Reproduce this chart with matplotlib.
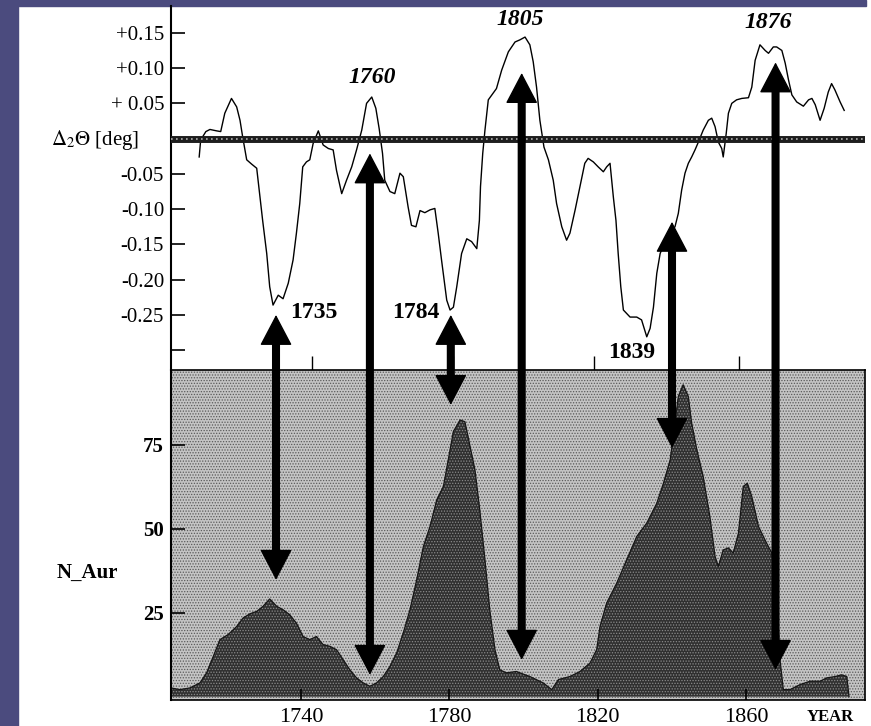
import matplotlib.pyplot as plt
from matplotlib.patches import ConnectionPatch, Rectangle
from matplotlib.transforms import blended_transform_factory

plt.rcParams['font.family'] = ['Liberation Serif', 'DejaVu Serif']
plt.rcParams['mathtext.fontset'] = 'stix'
plt.rcParams['hatch.linewidth'] = 0.6

# upper curve: delta_2 theta [deg]
theta_years = [1712.6, 1713.0, 1714.4, 1715.5, 1717.3, 1718.4, 1719.5, 1721.3, 1722.7, 1723.6,
               1724.3, 1725.4, 1726.7, 1728.1, 1729.0, 1729.7, 1730.8, 1731.6, 1732.5, 1733.9,
               1735.2, 1736.6, 1737.9, 1738.8, 1739.7, 1740.5, 1741.5, 1742.4, 1743.3, 1744.7,
               1746.0, 1747.4, 1748.7, 1749.6, 1751.0, 1752.3, 1753.7, 1755.0, 1756.4, 1757.7,
               1759.1, 1760.2, 1761.1, 1762.0, 1762.6, 1764.0, 1765.3, 1766.7, 1767.6, 1768.9,
               1769.8, 1771.0, 1772.1, 1773.4, 1774.8, 1776.1, 1777.0, 1777.9, 1779.3, 1780.2,
               1781.1, 1782.0, 1783.3, 1784.7, 1786.0, 1787.4, 1788.1, 1788.4, 1789.0, 1789.6,
               1790.5, 1792.7, 1794.1, 1795.9, 1797.7, 1799.0, 1800.4, 1801.7, 1802.6, 1803.5,
               1804.4, 1805.5, 1806.7, 1808.0, 1808.9, 1810.3, 1811.6, 1812.5, 1813.9, 1815.2,
               1816.5, 1817.4, 1818.8, 1820.1, 1821.5, 1822.4, 1823.3, 1824.2, 1824.9, 1825.5,
               1826.2, 1826.9, 1828.7, 1830.5, 1831.8, 1833.2, 1834.1, 1835.0, 1835.9, 1836.8,
               1838.6, 1840.8, 1841.7, 1842.6, 1843.5, 1844.4, 1845.3, 1846.2, 1847.1, 1848.4,
               1849.8, 1850.7, 1851.6, 1852.5, 1853.4, 1853.8, 1854.6, 1855.2, 1856.1, 1857.4,
               1858.8, 1860.6, 1861.5, 1862.4, 1863.7, 1865.1, 1866.0, 1867.3, 1868.2, 1869.6,
               1870.5, 1871.4, 1872.3, 1873.6, 1875.4, 1876.8, 1877.7, 1878.6, 1879.9, 1881.0,
               1882.1, 1883.0, 1883.9, 1885.3, 1886.4]
theta_vals = [-0.026, -0.002, 0.010, 0.013, 0.011, 0.010, 0.036, 0.057, 0.045, 0.026,
              0.003, -0.030, -0.036, -0.042, -0.083, -0.116, -0.163, -0.210, -0.236, -0.222,
              -0.227, -0.205, -0.172, -0.134, -0.092, -0.040, -0.033, -0.030, -0.007, 0.011,
              -0.009, -0.014, -0.016, -0.045, -0.078, -0.059, -0.040, -0.016, 0.012, 0.050,
              0.059, 0.043, 0.014, -0.021, -0.059, -0.075, -0.078, -0.049, -0.054, -0.097,
              -0.123, -0.125, -0.102, -0.105, -0.101, -0.099, -0.134, -0.172, -0.229, -0.243,
              -0.239, -0.210, -0.163, -0.142, -0.146, -0.156, -0.116, -0.068, -0.021, 0.012,
              0.055, 0.071, 0.097, 0.123, 0.137, 0.140, 0.144, 0.133, 0.109, 0.073,
              0.026, -0.012, -0.030, -0.059, -0.092, -0.125, -0.144, -0.134, -0.101, -0.068,
              -0.035, -0.028, -0.033, -0.040, -0.047, -0.040, -0.035, -0.083, -0.116, -0.163,
              -0.210, -0.243, -0.253, -0.253, -0.257, -0.281, -0.269, -0.239, -0.191, -0.163,
              -0.139, -0.125, -0.106, -0.073, -0.049, -0.035, -0.026, -0.016, -0.005, 0.012,
              0.026, 0.029, 0.017, -0.005, -0.014, -0.026, 0.007, 0.036, 0.050, 0.055,
              0.057, 0.058, 0.073, 0.111, 0.133, 0.125, 0.121, 0.130, 0.130, 0.125,
              0.107, 0.083, 0.062, 0.052, 0.046, 0.055, 0.057, 0.048, 0.026, 0.043,
              0.066, 0.078, 0.069, 0.052, 0.040]

# lower curve: N_Aur
aur_years = [1705.0, 1707.4, 1710.1, 1712.8, 1714.6, 1716.4, 1718.2, 1720.4, 1722.7, 1724.4,
             1726.3, 1728.1, 1729.8, 1731.6, 1733.5, 1735.2, 1737.0, 1738.8, 1740.6, 1742.4,
             1744.2, 1746.0, 1747.8, 1749.6, 1751.4, 1753.2, 1755.0, 1756.8, 1758.6, 1760.4,
             1762.2, 1764.0, 1765.8, 1767.6, 1769.4, 1771.2, 1773.0, 1774.8, 1776.6, 1778.4,
             1779.7, 1781.1, 1782.9, 1784.2, 1785.6, 1786.9, 1788.2, 1789.6, 1790.9, 1792.3,
             1793.6, 1795.4, 1798.1, 1799.0, 1801.7, 1805.3, 1807.6, 1809.4, 1812.5, 1815.2,
             1817.9, 1819.7, 1820.6, 1822.4, 1825.1, 1827.8, 1830.5, 1833.2, 1835.9, 1837.7,
             1839.5, 1840.8, 1841.7, 1843.0, 1844.4, 1845.3, 1846.7, 1848.4, 1850.2, 1851.6,
             1852.5, 1853.8, 1855.2, 1856.5, 1857.9, 1859.2, 1860.3, 1861.5, 1863.3, 1865.5,
             1866.9, 1868.2, 1869.1, 1870.0, 1871.8, 1874.5, 1877.2, 1879.9, 1881.7, 1884.0,
             1885.7, 1887.1, 1887.7]
aur_vals = [2.6, 2.1, 2.6, 4.1, 7.1, 12.0, 17.0, 18.5, 20.9, 23.4,
            24.7, 25.4, 26.9, 29.1, 26.9, 25.9, 24.4, 21.9, 17.9, 17.0,
            17.9, 15.5, 15.0, 14.0, 11.0, 8.0, 5.6, 4.1, 3.1, 4.1,
            6.0, 9.0, 13.0, 19.0, 25.9, 34.8, 44.7, 50.7, 58.6, 62.6,
            70.5, 79.0, 82.4, 81.9, 74.5, 67.6, 55.7, 40.8, 25.9, 14.0,
            8.0, 7.1, 7.5, 7.1, 6.0, 4.1, 2.1, 5.1, 6.0, 7.5,
            10.0, 14.0, 20.9, 27.9, 33.8, 40.8, 47.7, 51.7, 57.6, 63.6,
            70.5, 81.5, 89.4, 92.9, 89.4, 81.5, 73.5, 65.6, 53.7, 41.8,
            38.8, 43.7, 44.3, 42.8, 48.7, 62.6, 63.6, 59.6, 50.7, 45.7,
            42.8, 30.9, 11.0, 2.1, 2.1, 3.6, 4.6, 4.6, 5.6, 6.0,
            6.5, 6.0, 0.0]

# double arrows: year, tip in upper panel, tip in lower panel
arrow_years = [1733.3, 1758.6, 1780.4, 1799.5, 1840.0, 1867.9]
arrow_top = [-0.250, -0.021, -0.250, 0.093, -0.118, 0.108]
arrow_bot = [34.8, 6.5, 86.9, 11.0, 74.1, 8.0]

peak_labels = ['1760', '1805', '1876']
peak_x = [1759.1, 1799.0, 1865.9]
peak_y = [0.087, 0.169, 0.164]

dip_labels = ['1735', '1784', '1839']
dip_x = [1743.4, 1771.0, 1829.2]
dip_y = [-0.246, -0.247, -0.303]

year_ticks = [1740, 1780, 1820, 1860]
top_xticks = [1743, 1781, 1819, 1858]
top_ticks = [0.15, 0.10, 0.05, -0.05, -0.10, -0.15, -0.20, -0.25, -0.30]
top_ticklabels = ['+0.15', '+0.10', '+ 0.05', '-0.05', '-0.10', '-0.15', '-0.20', '-0.25', '']
aur_ticks = [25, 50, 75]

fig = plt.figure(figsize=(8.71, 7.26), dpi=100)
fig.add_artist(Rectangle((0, 0), 18 / 871, 1, transform=fig.transFigure,
                         color='#4b4b7e', zorder=0))
fig.add_artist(Rectangle((0, 1 - 6 / 726), 866 / 871, 6 / 726, transform=fig.transFigure,
                         color='#4b4b7e', zorder=0))

ax1 = fig.add_axes([0.1963, 0.4904, 0.7968, 0.5013])
ax2 = fig.add_axes([0.1963, 0.0358, 0.7968, 0.4546])

# upper panel
ax1.set_facecolor('none')
ax1.plot(theta_years, theta_vals, color='black', lw=1.0, zorder=2)
ax1.axhline(0, color='#1e1e1e', lw=5, zorder=3)
ax1.axhline(0, color='#b0b0b0', lw=1.2, ls=(0, (1, 2)), zorder=4)
ax1.set_xlim(1705, 1892)
ax1.set_ylim(-0.328, 0.188)
for s in ['top', 'right', 'bottom']:
    ax1.spines[s].set_visible(False)
ax1.spines['left'].set_linewidth(1.5)
ax1.set_yticks(top_ticks)
ax1.set_yticklabels(top_ticklabels)
ax1.tick_params(axis='y', direction='in', length=10, width=1.2, labelsize=15, pad=5)
ax1.set_xticks(top_xticks)
ax1.set_xticklabels([])
ax1.tick_params(axis='x', direction='in', length=10, width=1.0)
tr1 = blended_transform_factory(ax1.transAxes, ax1.transData)
ax1.text(-0.045, -0.002, r'$\Delta_2\Theta$ [deg]', transform=tr1, ha='right', va='center',
         fontsize=15)

for lab, x, y in zip(peak_labels, peak_x, peak_y):
    ax1.text(x, y, lab, ha='center', va='center', fontsize=17, fontweight='bold',
             fontstyle='italic')
for lab, x, y in zip(dip_labels, dip_x, dip_y):
    ax1.text(x, y, lab, ha='center', va='center', fontsize=17, fontweight='bold')

# lower panel, stippled background and stippled dark fill
ax2.set_facecolor('#c4c4c4')
ax2.add_patch(Rectangle((0, 0), 1, 1, transform=ax2.transAxes, facecolor='none',
                        edgecolor='#5a5a5a', hatch='......', lw=0, zorder=0.5))
ax2.fill_between(aur_years, 0, aur_vals, facecolor='#303030', edgecolor='#8a8a8a',
                 hatch='......', lw=0, zorder=1)
ax2.plot(aur_years, aur_vals, color='#151515', lw=0.9, zorder=1.5)
ax2.set_xlim(1705, 1892)
ax2.set_ylim(-1, 97.3)
for s in ax2.spines.values():
    s.set_linewidth(1.2)
ax2.spines['left'].set_linewidth(1.5)
ax2.set_yticks(aur_ticks)
ax2.set_yticklabels([str(t) for t in aur_ticks], fontweight='bold')
ax2.tick_params(axis='y', direction='in', length=10, width=1.2, labelsize=15, pad=5)
ax2.set_xticks(year_ticks)
ax2.set_xticklabels([str(t) for t in year_ticks])
ax2.tick_params(axis='x', direction='in', length=8, width=1.2, labelsize=16, pad=6)
tr2 = blended_transform_factory(ax2.transAxes, ax2.transData)
ax2.text(-0.12, 37, 'N_Aur', transform=tr2, ha='center', va='center', fontsize=15,
         fontweight='bold')
tr3 = blended_transform_factory(ax2.transData, ax2.transAxes)
ax2.text(1882.6, -0.052, 'YEAR', transform=tr3, ha='center', va='center', fontsize=12,
         fontweight='bold')

# arrows spanning both panels
for yr, a, b in zip(arrow_years, arrow_top, arrow_bot):
    shaft = ConnectionPatch((yr, a), (yr, b), 'data', 'data', axesA=ax1, axesB=ax2,
                            arrowstyle='-', lw=5.8, color='black', shrinkA=14, shrinkB=14,
                            zorder=5)
    fig.add_artist(shaft)
    heads = ConnectionPatch((yr, a), (yr, b), 'data', 'data', axesA=ax1, axesB=ax2,
                            arrowstyle='<|-|>,head_length=2.0,head_width=1.05',
                            mutation_scale=10, lw=1, color='black', zorder=6)
    fig.add_artist(heads)

fig.savefig('out.png', dpi=100)
